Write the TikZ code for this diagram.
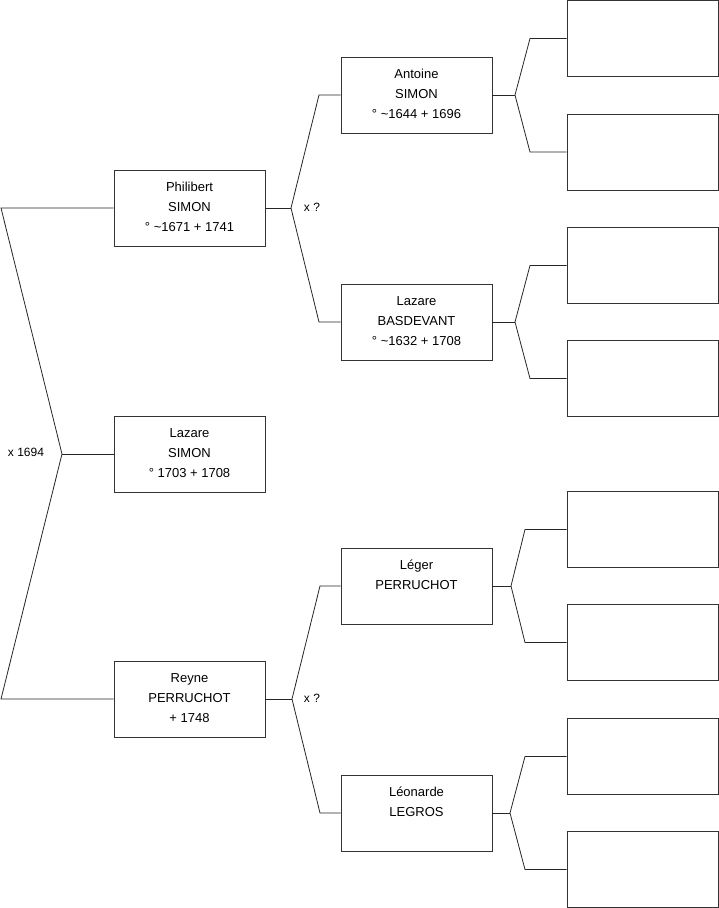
\documentclass[tikz,border=0pt]{standalone}
\usepackage{fontspec}
\setmainfont{Liberation Sans}
\usetikzlibrary{positioning}

\newcommand{\pstrut}{\rule[-7pt]{0pt}{20pt}}

\begin{document}
\begin{tikzpicture}[
    x=1pt, y=-1pt,
    person/.style={rectangle, draw=black!80, line width=0.8pt, minimum width=151pt, minimum height=76pt, inner sep=0pt, align=center, font=\fontsize{13}{20}\selectfont},
    link/.style={draw=black!85, line width=0.8pt},
    union/.style={font=\fontsize{12}{14}\selectfont}
]
    \useasboundingbox (0,0) rectangle (719,908);

    % Generation 1
    \node[person] (philibert) at (189.5, 208) {\pstrut Philibert\\SIMON\\° \textasciitilde1671 + 1741\pstrut};
    \node[person] (lazare) at (189.5, 454) {\pstrut Lazare\\SIMON\\° 1703 + 1708\pstrut};
    \node[person] (reyne) at (189.5, 699) {\pstrut Reyne\\PERRUCHOT\\+ 1748\pstrut};

    % Generation 2
    \node[person] (antoine) at (416.5, 95) {\pstrut Antoine\\SIMON\\° \textasciitilde1644 + 1696\pstrut};
    \node[person] (basdevant) at (416.5, 322) {\pstrut Lazare\\BASDEVANT\\° \textasciitilde1632 + 1708\pstrut};
    \node[person] (leger) at (416.5, 586) {\pstrut Léger\\PERRUCHOT\\\pstrut};
    \node[person] (leonarde) at (416.5, 813) {\pstrut Léonarde\\LEGROS\\\pstrut};

    % Generation 3 (empty)
    \node[person] (e1) at (642.5, 38.5) {};
    \node[person] (e2) at (642.5, 152) {};
    \node[person] (e3) at (642.5, 265.5) {};
    \node[person] (e4) at (642.5, 378.5) {};
    \node[person] (e5) at (642.5, 529.5) {};
    \node[person] (e6) at (642.5, 642.5) {};
    \node[person] (e7) at (642.5, 756.5) {};
    \node[person] (e8) at (642.5, 869.5) {};

    % Fork points
    \coordinate (m0) at (62, 454);
    \coordinate (m0a) at (1, 208);
    \coordinate (m0b) at (1, 699);
    \coordinate (m1) at (291, 208);
    \coordinate (m1a) at (319, 95);
    \coordinate (m1b) at (319, 322);
    \coordinate (m2) at (292, 699);
    \coordinate (m2a) at (320, 586);
    \coordinate (m2b) at (320, 813);
    \coordinate (m3) at (515, 95);
    \coordinate (m3a) at (530, 38.5);
    \coordinate (m3b) at (530, 152);
    \coordinate (m4) at (515, 322);
    \coordinate (m4a) at (530, 265.5);
    \coordinate (m4b) at (530, 378.5);
    \coordinate (m5) at (511, 586);
    \coordinate (m5a) at (525, 529.5);
    \coordinate (m5b) at (525, 642.5);
    \coordinate (m6) at (510, 813);
    \coordinate (m6a) at (525, 756.5);
    \coordinate (m6b) at (525, 869.5);

    % Connections
    \draw[link] (philibert.west) -- (m0a) -- (m0) -- (m0b) -- (reyne.west);
    \draw[link] (m0) -- (lazare.west);

    \draw[link] (philibert.east) -- (m1);
    \draw[link] (antoine.west) -- (m1a) -- (m1) -- (m1b) -- (basdevant.west);
    \draw[link] (reyne.east) -- (m2);
    \draw[link] (leger.west) -- (m2a) -- (m2) -- (m2b) -- (leonarde.west);

    \draw[link] (antoine.east) -- (m3);
    \draw[link] (e1.west) -- (m3a) -- (m3) -- (m3b) -- (e2.west);
    \draw[link] (basdevant.east) -- (m4);
    \draw[link] (e3.west) -- (m4a) -- (m4) -- (m4b) -- (e4.west);
    \draw[link] (leger.east) -- (m5);
    \draw[link] (e5.west) -- (m5a) -- (m5) -- (m5b) -- (e6.west);
    \draw[link] (leonarde.east) -- (m6);
    \draw[link] (e7.west) -- (m6a) -- (m6) -- (m6b) -- (e8.west);

    % Marriages
    \node[union] (u0) at (26, 452) {x 1694};
    \node[union] (u1) at (312, 207) {x ?};
    \node[union] (u2) at (312, 698) {x ?};

\end{tikzpicture}
\end{document}
